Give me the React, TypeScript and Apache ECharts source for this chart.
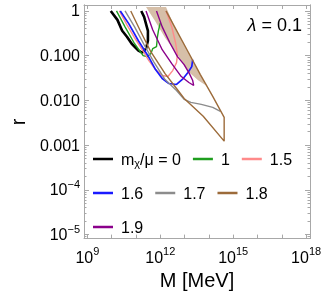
import React, { useEffect, useRef } from "react";
import * as echarts from "echarts";

const xTickValues = [9, 10, 11, 12, 13, 14, 15, 16, 17, 18];
const xLabelValues = [9, 12, 15, 18];
const yMajorValues = [-5, -4, -3, -2, -1, 0];
const yLabelText: Record<string, string> = {
  "0": "1",
  "-1": "0.100",
  "-2": "0.010",
  "-3": "0.001",
  "-4": "{b|10}{s|−4}",
  "-5": "{b|10}{s|−5}",
};
const yMinorValues: number[] = [];
for (let n = -6; n <= 0; n++) {
  for (let k = 2; k <= 9; k++) {
    const v = n + Math.log10(k);
    if (v > -5.09 && v < 0.133) yMinorValues.push(v);
  }
}

// data in log10 units: [log10 M/MeV, log10 r]
const names = ["0", "1", "1.5", "1.6", "1.7", "1.8", "1.9"];
const colors = ["#000000", "#1f9e1f", "#ff8a8a", "#1a1aff", "#8c8c8c", "#9c6b3a", "#8b008b"];
const widths = [2.6, 1.4, 1.4, 1.7, 1.4, 1.4, 1.4];

const curve0 = [[9.961, 0], [10.235, -0.2], [10.431, -0.444], [10.627, -0.578], [10.824, -0.733], [11.098, -0.889], [11.255, -0.933], [11.412, -0.844], [11.49, -0.667], [11.49, -0.444], [11.333, -0.133], [11.216, 0]];
const curve1 = [[10.196, 0], [10.549, -0.356], [10.941, -0.733], [11.294, -1.0], [11.451, -1.022], [11.608, -0.956], [11.686, -0.844], [11.843, -0.8], [11.882, -0.578], [11.922, -0.444], [12.0, -0.267]];
const curve15 = [[10.314, 0], [10.627, -0.311], [10.941, -0.6], [11.255, -0.867], [11.529, -1.111], [11.804, -1.311], [12.078, -1.444], [12.314, -1.467], [12.51, -1.333], [12.667, -1.156], [12.706, -0.978], [12.627, -0.711], [12.471, -0.356], [12.235, 0]];
const curve16 = [[10.353, 0], [10.706, -0.289], [11.098, -0.667], [11.49, -1.0], [11.804, -1.311], [12.078, -1.511], [12.353, -1.622], [12.667, -1.644], [12.941, -1.511], [13.137, -1.378], [13.294, -1.244], [13.333, -1.089]];
const curve17 = [[10.549, 0], [10.941, -0.356], [11.333, -0.756], [11.725, -1.133], [12.196, -1.533], [12.667, -1.778], [12.98, -1.978], [13.255, -2.044], [13.686, -2.089], [14.157, -2.156], [14.471, -2.244]];
const curve18 = [[10.784, 0], [11.176, -0.444], [11.608, -0.911], [12.196, -1.4], [12.667, -1.733], [12.98, -1.956], [13.765, -2.356], [14.627, -2.911], [14.627, -2.378], [14.157, -1.911], [13.647, -1.422], [13.098, -0.867], [12.588, -0.356], [12.235, 0]];
const curve19 = [[11.412, 0], [11.686, -0.422], [12.078, -0.867], [12.471, -1.178], [12.863, -1.467], [13.176, -1.6], [13.373, -1.667], [13.333, -1.556], [13.176, -1.378], [12.98, -1.2], [12.706, -1.022], [12.392, -0.711], [12.078, -0.356], [11.843, 0]];
const shade18 = [[11.412, 0.09], [12.235, 0.09], [12.588, -0.356], [13.098, -0.867], [13.647, -1.422], [13.882, -1.667], [13.569, -1.556], [13.098, -1.333], [12.706, -0.978], [12.196, -0.6], [11.804, -0.244]];

const curves = [curve0, curve1, curve15, curve16, curve17, curve18, curve19];

const FONT = "'Liberation Sans', Arial, sans-serif";
const FRAME = "#a8a8a8";
const X_MIN = 8.86, X_MAX = 18.16, Y_MIN = -5.09, Y_MAX = 0.133;

export default function App() {
  const ref = useRef<HTMLDivElement>(null);
  useEffect(() => {
    if (!ref.current) return;
    const chart = echarts.init(ref.current, null, { renderer: "svg" });
    const supRich = {
      b: { fontSize: 16, fontFamily: FONT, color: "#000" },
      s: { fontSize: 11, fontFamily: FONT, color: "#000", verticalAlign: "bottom", padding: [0, 0, 12, 0] },
    };
    const xAxisBase = (pos: "bottom" | "top", labels: boolean) => ({
      type: "value",
      position: pos,
      min: X_MIN,
      max: X_MAX,
      axisLine: { show: true, onZero: false, lineStyle: { color: FRAME, width: 1 } },
      axisTick: { show: true, inside: true, length: 4, customValues: xTickValues, lineStyle: { color: FRAME } },
      axisLabel: {
        show: labels,
        customValues: xLabelValues,
        margin: 7,
        formatter: (v: number) => `{b|10}{s|${Math.round(v)}}`,
        rich: supRich,
      },
      splitLine: { show: false },
    });
    const yAxisBase = (pos: "left" | "right", major: boolean, labels: boolean) => ({
      type: "value",
      position: pos,
      min: Y_MIN,
      max: Y_MAX,
      axisLine: { show: true, onZero: false, lineStyle: { color: FRAME, width: 1 } },
      axisTick: { show: true, inside: true, length: major ? 5 : 2.5, customValues: major ? yMajorValues : yMinorValues, lineStyle: { color: FRAME } },
      axisLabel: {
        show: labels,
        customValues: yMajorValues,
        margin: 4,
        fontSize: 16,
        fontFamily: FONT,
        color: "#000",
        formatter: (v: number) => yLabelText[String(Math.round(v))] ?? "",
        rich: supRich,
      },
      splitLine: { show: false },
    });
    const legendCommon = {
      orient: "horizontal",
      icon: "rect",
      itemWidth: 20,
      itemHeight: 2.5,
      itemGap: 12,
      selectedMode: false,
      formatter: (n: string) => (n === "0" ? "{a|m}{c|χ}{a|/μ = 0}" : n),
      textStyle: {
        fontSize: 16,
        fontFamily: FONT,
        color: "#000",
        padding: [0, 0, 0, 3],
        rich: {
          a: { fontSize: 16, fontFamily: FONT, color: "#000" },
          c: { fontSize: 11, fontFamily: FONT, color: "#000", verticalAlign: "top", padding: [8, 0, 0, 0] },
        },
      },
    };
    const lineSeries = names.map((n, i) => ({
      type: "line",
      name: n,
      data: curves[i],
      color: colors[i],
      showSymbol: false,
      symbol: "none",
      lineStyle: { color: colors[i], width: widths[i] },
      z: 3,
    }));
    chart.setOption({
      animation: false,
      grid: { left: 75, right: 12, top: 5, bottom: 55 },
      xAxis: [
        { ...xAxisBase("bottom", true), name: "M [MeV]", nameLocation: "middle", nameGap: 30, nameTextStyle: { fontSize: 20, fontFamily: FONT, color: "#000" } },
        xAxisBase("top", false),
      ],
      yAxis: [
        { ...yAxisBase("left", true, true), name: "r", nameLocation: "middle", nameGap: 56, nameRotate: 90, nameTextStyle: { fontSize: 20, fontFamily: FONT, color: "#000" } },
        yAxisBase("left", false, false),
        yAxisBase("right", true, false),
        yAxisBase("right", false, false),
      ],
      legend: [
        { ...legendCommon, data: ["0", "1", "1.5"], left: 88, top: 146 },
        { ...legendCommon, data: ["1.6", "1.7", "1.8"], left: 88, top: 180 },
        { ...legendCommon, data: ["1.9"], left: 88, top: 214 },
      ],
      graphic: [
        {
          type: "text",
          right: 22,
          top: 16,
          style: {
            text: "{i|λ} = 0.1",
            fontSize: 18,
            fontFamily: FONT,
            fill: "#000",
            rich: { i: { fontSize: 18, fontFamily: FONT, fontStyle: "italic", fill: "#000" } },
          },
        },
      ],
      series: [
        {
          type: "custom",
          name: "shade",
          data: shade18,
          z: 1,
          renderItem: (params: any, api: any) => {
            if (params.dataIndex !== 0) return null;
            const pts = shade18.map((p) => api.coord(p));
            return { type: "polygon", shape: { points: pts }, style: { fill: "#d6bfa8", stroke: "none" } };
          },
        },
        ...lineSeries,
      ],
    });
    return () => chart.dispose();
  }, []);
  return <div ref={ref} style={{ position: "fixed", left: 0, top: 0, width: 324, height: 295 }} />;
}
